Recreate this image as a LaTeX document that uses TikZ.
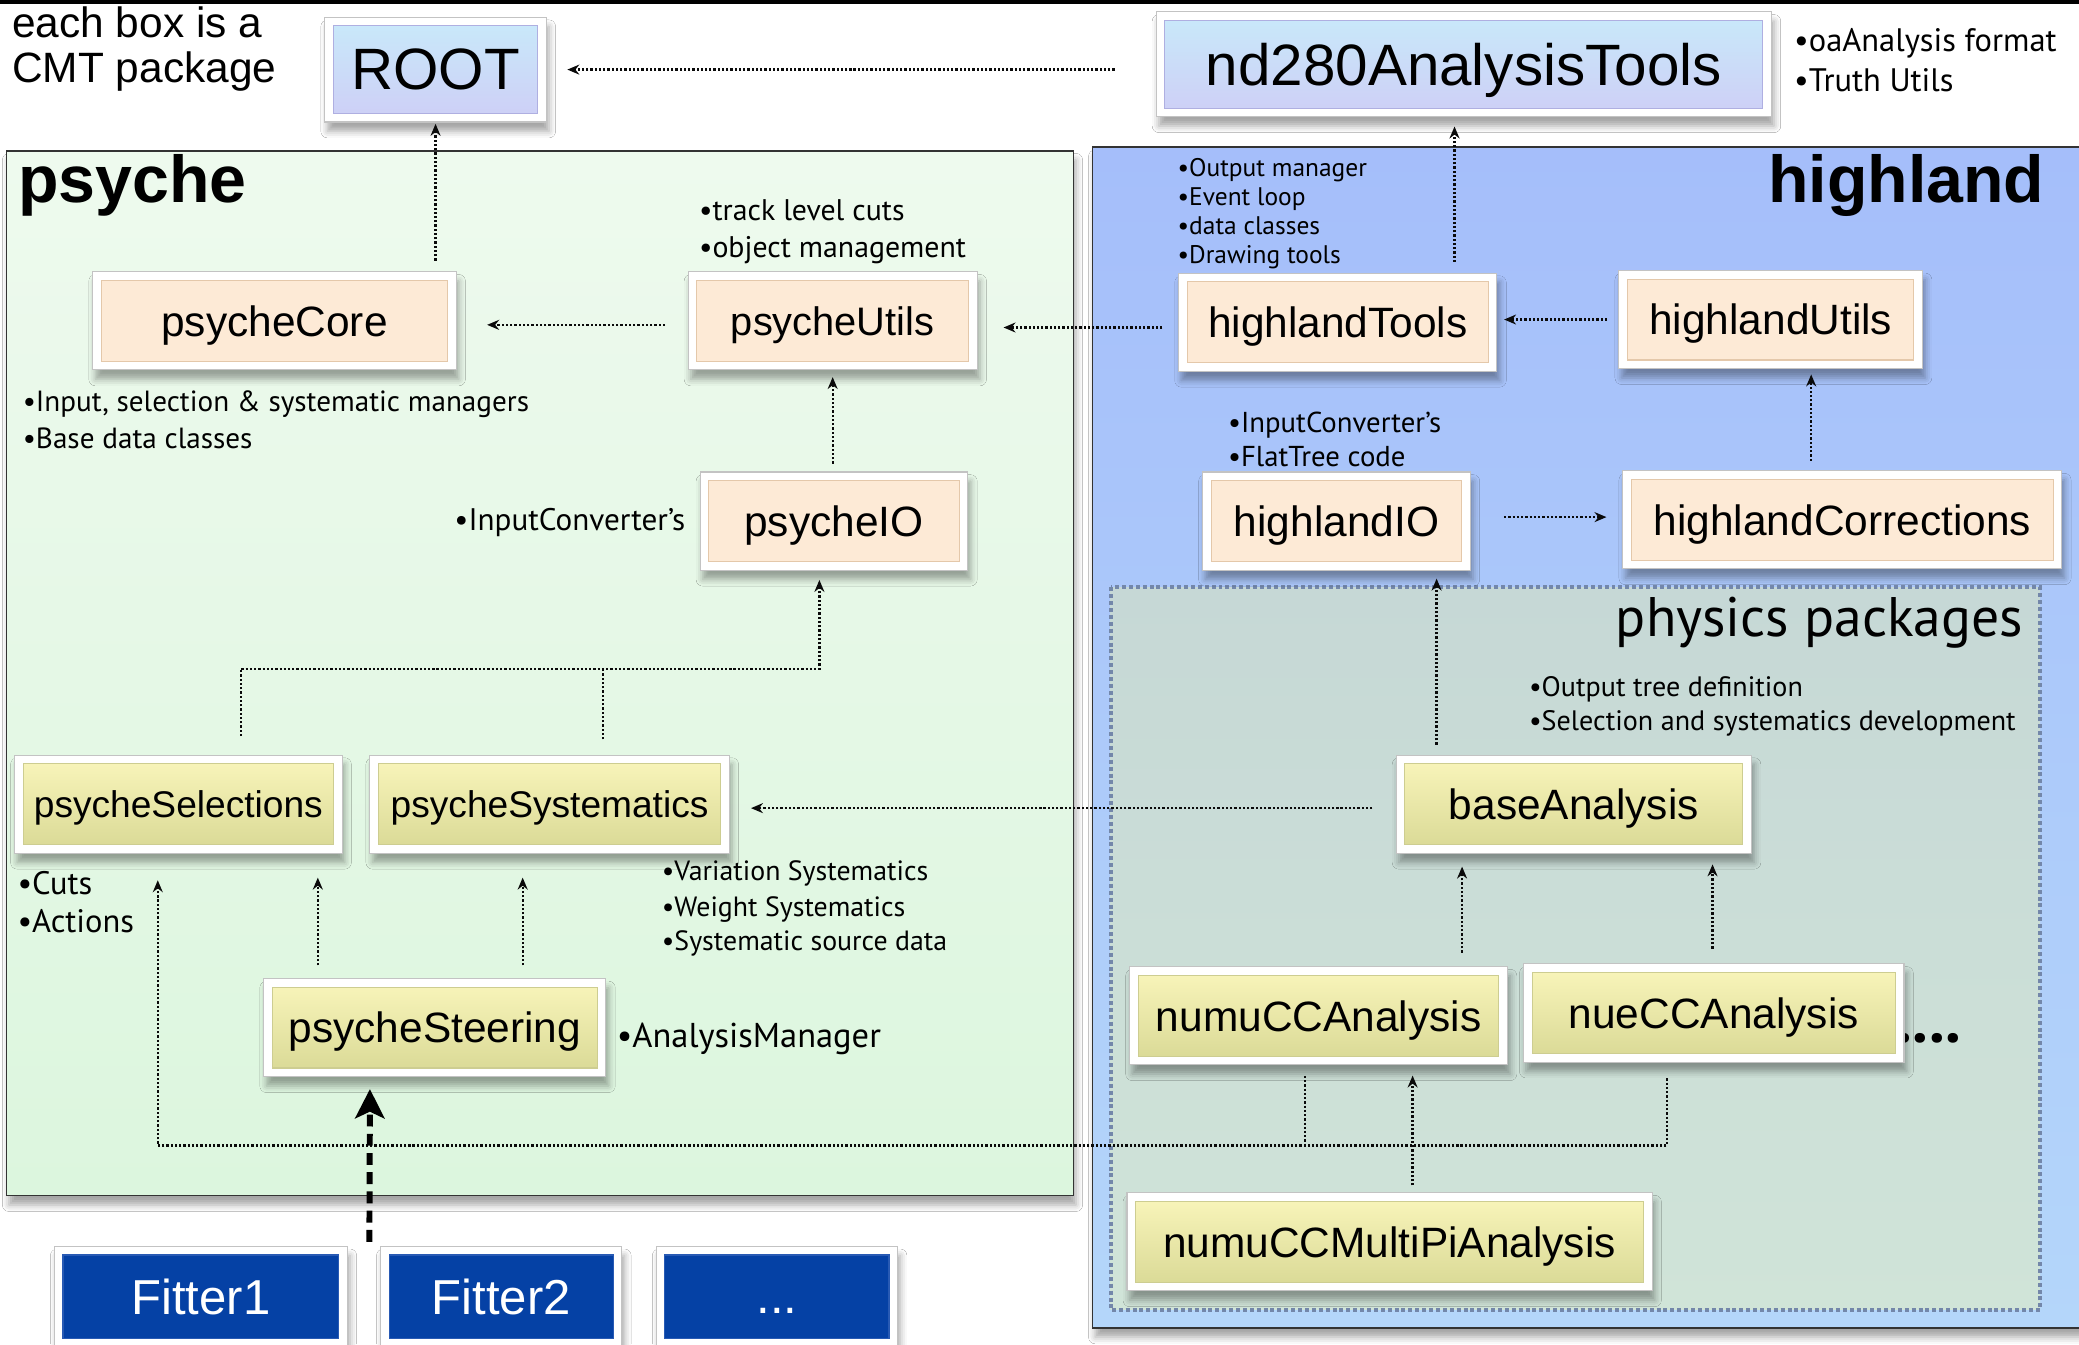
\documentclass[tikz,border=0pt]{standalone}
\usepackage{fontspec}
\setmainfont{Liberation Sans}
\newfontfamily\notefam{PT Sans}
\usetikzlibrary{arrows.meta,shadows.blur,calc}

\newcommand\fs[1]{\fontsize{#1}{#1}\selectfont}
\newcommand\innerrect[1]{\path[#1] ([shift={(6.5pt,6.5pt)}]path picture bounding box.south west) rectangle ([shift={(-6.5pt,-6.5pt)}]path picture bounding box.north east);}

\definecolor{framegray}{RGB}{195,195,195}
\definecolor{peachfill}{RGB}{253,234,214}
\definecolor{peachline}{RGB}{228,200,170}
\definecolor{yeltop}{RGB}{250,246,188}
\definecolor{yelbot}{RGB}{216,216,148}
\definecolor{yelline}{RGB}{205,205,145}
\definecolor{bluetop}{RGB}{200,234,250}
\definecolor{bluebot}{RGB}{206,206,246}
\definecolor{blueline}{RGB}{175,175,225}
\definecolor{fitblue}{RGB}{5,65,165}
\definecolor{fitline}{RGB}{40,90,180}
\definecolor{psychetop}{RGB}{238,250,238}
\definecolor{psychebot}{RGB}{220,246,222}
\definecolor{hltop}{RGB}{165,190,250}
\definecolor{hlbot}{RGB}{180,214,250}
\definecolor{phystop}{RGB}{198,216,214}
\definecolor{physbot}{RGB}{208,228,216}
\definecolor{physline}{RGB}{115,135,170}
\definecolor{conngray}{RGB}{10,10,10}

\tikzset{
  softshadow/.style={blur shadow={shadow xshift=2pt, shadow yshift=-7pt, shadow blur radius=5pt, shadow opacity=35}},
  pkgframe/.style={draw=framegray, line width=0.8pt, fill=white, inner sep=0pt, text depth=0pt, minimum height=74pt, softshadow},
  pkgpeach/.style={pkgframe, path picture={\innerrect{fill=peachfill, draw=peachline, line width=0.8pt}}},
  pkgyellow/.style={pkgframe, path picture={\innerrect{top color=yeltop, bottom color=yelbot, draw=yelline, line width=0.8pt}}},
  pkgblue/.style={pkgframe, path picture={\innerrect{top color=bluetop, bottom color=bluebot, draw=blueline, line width=0.8pt}}},
  pkgfit/.style={pkgframe, text=white, path picture={\innerrect{fill=fitblue, draw=fitline, line width=0.8pt}}},
  note/.style={font=\notefam\fs{#1}, inner sep=0pt, anchor=base west},
  linkline/.style={draw=conngray, line width=1.7pt, dash pattern=on 1.7pt off 1.5pt},
  conn/.style={linkline, -{Stealth[length=9pt,width=7.5pt]}},
  bigconn/.style={draw=black, line width=4.5pt, dash pattern=on 9pt off 5.5pt, -{Stealth[length=22pt,width=22pt,inset=5pt]}},
}

\begin{document}
\begin{tikzpicture}[x=1pt,y=-1pt]
\useasboundingbox (0,0) rectangle (1568,1014);
\fill[white] (0,0) rectangle (1568,1014);

% rule along the top edge
\draw[line width=2.5pt] (0,1.5) -- (1568,1.5);

% framework areas
\path[draw=black!80, line width=1.2pt, top color=psychetop, bottom color=psychebot, softshadow]
  (4.8,113.7) rectangle (809.5,901.7);
\path[draw=black!80, line width=1.2pt, top color=hltop, bottom color=hlbot, softshadow]
  (824,111) rectangle (1585,1001.5);
\path[draw=physline, line width=3pt, dash pattern=on 3pt off 2.2pt, top color=phystop, bottom color=physbot]
  (837.6,443) rectangle (1538.6,988);

% area titles
\node[font=\bfseries\fs{50}, inner sep=0pt, anchor=base west] (psychetitle) at (13.5,153) {psyche};
\node[font=\bfseries\fs{50}, inner sep=0pt, anchor=base east] (highlandtitle) at (1542,153) {highland};
\node[note=42, anchor=base east] (phystitle) at (1526,480) {physics packages};

% legend
\node[font=\fs{32}, inner sep=0pt, anchor=base west] (legendA) at (9,28) {each box is a};
\node[font=\fs{32}, inner sep=0pt, anchor=base west] (legendB) at (9,62) {CMT package};

% external packages
\node[pkgblue, minimum width=167pt, minimum height=79pt, font=\fs{44}] (root) at (328.5,52.5) {ROOT};
\node[pkgblue, minimum width=464pt, minimum height=79pt, font=\fs{44}] (nd280) at (1104,48.5) {nd280AnalysisTools};

% psyche packages
\node[pkgpeach, minimum width=274pt, font=\fs{32}] (core) at (207,242) {psycheCore};
\node[pkgpeach, minimum width=218pt, font=\fs{30}] (putils) at (628,242) {psycheUtils};
\node[pkgpeach, minimum width=202pt, font=\fs{32}] (pio) at (629,393) {psycheIO};
\node[pkgyellow, minimum width=247pt, font=\fs{28}] (psel) at (134.5,606.5) {psycheSelections};
\node[pkgyellow, minimum width=271pt, font=\fs{28}] (psys) at (414.5,606.5) {psycheSystematics};
\node[pkgyellow, minimum width=258pt, font=\fs{32}] (psteer) at (328,775) {psycheSteering};

% highland packages
\node[pkgpeach, minimum width=240pt, font=\fs{32}] (htools) at (1009,243) {highlandTools};
\node[pkgpeach, minimum width=229pt, font=\fs{32}] (hutils) at (1335.5,241) {highlandUtils};
\node[pkgpeach, minimum width=202pt, font=\fs{32}] (hio) at (1008,393) {highlandIO};
\node[pkgpeach, minimum width=331pt, font=\fs{32}] (hcorr) at (1389.5,392) {highlandCorrections};

% physics packages (the trailing dots sit partly under nueCCAnalysis)
\node[font=\notefam\bfseries\fs{48}, inner sep=0pt, anchor=base west] (moreana) at (1430,786) {....};
\node[pkgyellow, minimum width=268pt, font=\fs{32}] (base) at (1187,606.5) {baseAnalysis};
\node[pkgyellow, minimum width=285pt, font=\fs{32}] (numu) at (994.5,766) {numuCCAnalysis};
\node[pkgyellow, minimum width=287pt, font=\fs{32}] (nue) at (1292.5,764) {nueCCAnalysis};
\node[pkgyellow, minimum width=396pt, font=\fs{32}] (multipi) at (1048,936.5) {numuCCMultiPiAnalysis};

% fitters
\node[pkgfit, minimum width=221pt, minimum height=76pt, font=\fs{37}] (fitA) at (151.5,978) {Fitter1};
\node[pkgfit, minimum width=182pt, minimum height=76pt, font=\fs{37}] (fitB) at (378,978) {Fitter2};
\node[pkgfit, minimum width=182pt, minimum height=76pt, font=\fs{37}] (fitC) at (586,978) {\vphantom{F}...};

% notes
\node[note=24.5] (ndA) at (1353,39) {•oaAnalysis format};
\node[note=24.5] (ndB) at (1353,69) {•Truth Utils};
\node[note=22.5] (puA) at (527,166) {•track level cuts};
\node[note=22.5] (puB) at (527,194) {•object management};
\node[note=22] (pcA) at (17,310) {•Input, selection \& systematic managers};
\node[note=22] (pcB) at (17,338) {•Base data classes};
\node[note=23.5, anchor=base east] (pioA) at (517,400) {•InputConverter’s};
\node[note=19.2] (htA) at (888,133) {•Output manager};
\node[note=19.2] (htB) at (888,155) {•Event loop};
\node[note=19.2] (htC) at (888,177) {•data classes};
\node[note=19.2] (htD) at (888,199) {•Drawing tools};
\node[note=21.7] (hioA) at (926,326) {•InputConverter’s};
\node[note=21.7] (hioB) at (926,352) {•FlatTree code};
\node[note=21.2] (baA) at (1153,525) {•Output tree definition};
\node[note=21.2] (baB) at (1153,551) {•Selection and systematics development};
\node[note=24.5] (psA) at (13,675) {•Cuts};
\node[note=24.5] (psB) at (13,703) {•Actions};
\node[note=21] (syA) at (499,664) {•Variation Systematics};
\node[note=21] (syB) at (499,691) {•Weight Systematics};
\node[note=21] (syC) at (499,717) {•Systematic source data};
\node[note=26] (stA) at (465,790) {•AnalysisManager};

% dependencies
\draw[conn, shorten <=31pt, shorten >=15.5pt] ([yshift=-4pt]nd280.west) -- ([yshift=-4pt]nd280.west -| root.east);
\draw[conn, shorten <=8pt, shorten >=1pt] (core.north -| root.south) -- (root.south);
\draw[conn] ($(htools.north)+(88,-8)$) -- ($(nd280.south)+(-7,7)$);
\draw[conn, shorten <=17pt, shorten >=23pt] ([yshift=-3pt]putils.west) -- ([yshift=-3pt]putils.west -| core.east);
\draw[conn, shorten <=12pt, shorten >=19.5pt] ([yshift=-4pt]htools.west) -- ([yshift=-4pt]htools.west -| putils.east);
\draw[conn, shorten <=8.5pt, shorten >=5pt] (hutils.west) -- (hutils.west -| htools.east);
\draw[conn] ($(pio.north)+(-1,-6)$) -- ($(putils.south)+(0,5)$);
\draw[conn] ($(hcorr.north)+(-23.5,-7)$) -- ($(hutils.south)+(30.5,4)$);
\draw[conn, shorten <=25pt, shorten >=12pt] ([yshift=3pt]hio.east) -- ([yshift=3pt]hio.east -| hcorr.west);
\draw[conn] ($(base.north)+(-103.5,-7.5)$) -- ($(hio.south)+(75.5,6)$);
\draw[linkline] ($(psys.north)+(40.5,-11.5)$) -- ($(pio.south)+(-174,74)$);
\draw[conn] ($(psel.north)+(47,-14)$) |- ($(pio.south)+(-11,74)$) -- ($(pio.south)+(-11,7)$);
\draw[conn, shorten <=17.5pt, shorten >=16pt] ([yshift=-3pt]base.west) -- ([yshift=-3pt]base.west -| psys.east);
\draw[conn] ($(psteer.north)+(-88.3,-9.6)$) -- ($(psel.south)+(105.2,18)$);
\draw[conn] ($(psteer.north)+(66.2,-9.6)$) -- ($(psys.south)+(-20.3,18)$);
\draw[linkline] ($(numu.south)+(-10.5,8)$) -- ($(numu.south)+(-10.5,61)$);
\draw[conn] ($(nue.south)+(-35,12)$) |- ($(psel.south)+(-15.5,220)$) -- ($(psel.south)+(-15.5,20)$);
\draw[conn] ($(multipi.north)+(17.4,-5)$) -- ($(numu.south)+(70.9,7.8)$);
\draw[conn] ($(numu.north)+(108.2,-10.2)$) -- ($(base.south)+(-84.3,9.7)$);
\draw[conn] ($(nue.north)+(-0.9,-11.2)$) -- ($(base.south)+(104.6,8)$);
\draw[bigconn] ($(fitB.north west)+(-8,-3)$) -- ($(psteer.south)+(-49,9)$);
\end{tikzpicture}
\end{document}
